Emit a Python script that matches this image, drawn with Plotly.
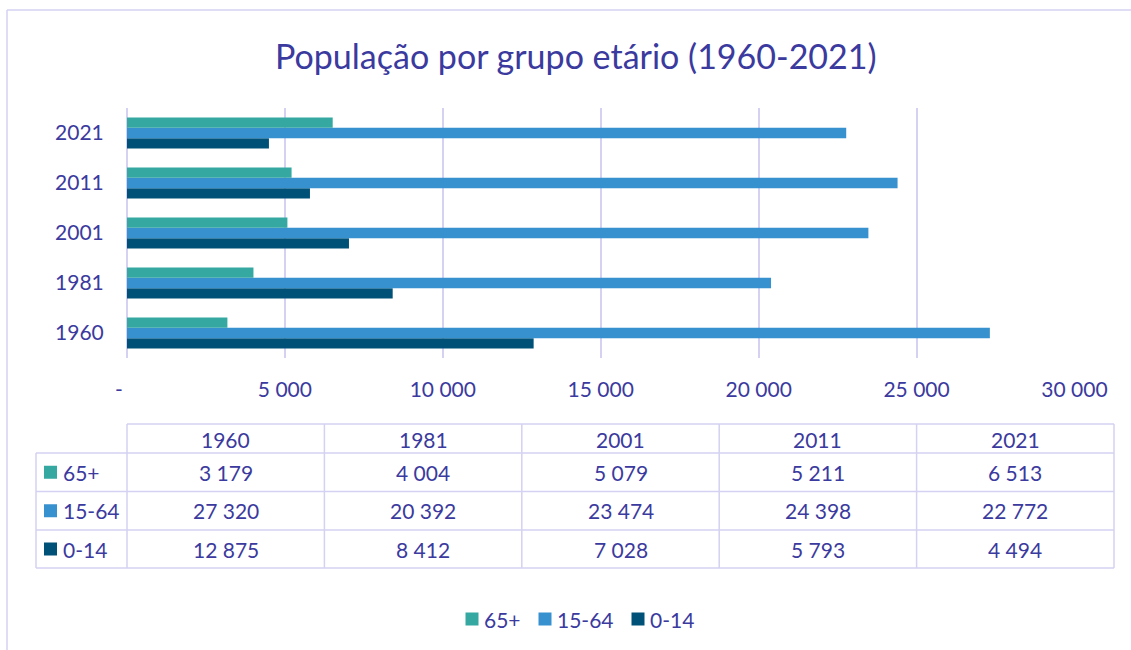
import plotly.graph_objects as go

# data (thousands of people)
anos = ["1960", "1981", "2001", "2011", "2021"]
grupos = ["65+", "15-64", "0-14"]
v_65 = [3179, 4004, 5079, 5211, 6513]
v_15_64 = [27320, 20392, 23474, 24398, 22772]
v_0_14 = [12875, 8412, 7028, 5793, 4494]
x_ticks = [0, 5000, 10000, 15000, 20000, 25000, 30000]
x_labels = ["-\u00a0\u00a0\u00a0", "5 000", "10 000", "15 000", "20 000", "25 000", "30 000"]

cores = {"65+": "#35A9A1", "15-64": "#3791CF", "0-14": "#005177"}
valores = {"65+": v_65, "15-64": v_15_64, "0-14": v_0_14}

W, H = 1131, 650
TXT = "#3B3A9E"
LINHA = "#D4D1F2"
FONTE = "Lato"
FS = 21


def px(x):
    return x / W


def py(y):
    return 1 - y / H


def fmt(v):
    return f"{v:,}".replace(",", " ")


def texto(t, x, y, xanchor="center", size=FS):
    return dict(text=t, x=px(x), y=py(y), xref="paper", yref="paper",
                xanchor=xanchor, yanchor="middle", showarrow=False,
                font=dict(size=size, color=TXT, family=FONTE))


def linha(x0, y0, x1, y1):
    return dict(type="line", xref="paper", yref="paper",
                x0=px(x0), x1=px(x1), y0=py(y0), y1=py(y1),
                line=dict(color=LINHA, width=1.5))


def quadrado(cx, cy, cor, lado=13):
    return dict(type="rect", xref="paper", yref="paper",
                x0=px(cx - lado / 2), x1=px(cx + lado / 2),
                y0=py(cy + lado / 2), y1=py(cy - lado / 2),
                fillcolor=cor, line=dict(width=0))


fig = go.Figure()
# plotly puts the first trace at the bottom of each group
for g in ["0-14", "15-64", "65+"]:
    fig.add_trace(go.Bar(
        y=anos, x=valores[g], name=g, orientation="h",
        marker=dict(color=cores[g], line=dict(width=0)),
        showlegend=False,
    ))

shapes = []
annots = []

# outer frame
shapes.append(linha(7, 10, 7, 660))
shapes.append(linha(7, 10, 1140, 10))

# data table below the chart
col_x = [127 + i * 197.4 for i in range(6)]
row_y = [424, 453, 491.5, 530, 568]
lab_x0 = 36
for i, y in enumerate(row_y):
    shapes.append(linha(col_x[0] if i == 0 else lab_x0, y, col_x[-1], y))
for x in col_x:
    shapes.append(linha(x, row_y[0], x, row_y[-1]))
shapes.append(linha(lab_x0, row_y[1], lab_x0, row_y[-1]))

for j, ano in enumerate(anos):
    cx = (col_x[j] + col_x[j + 1]) / 2
    annots.append(texto(ano, cx, (row_y[0] + row_y[1]) / 2 + 1))

for i, g in enumerate(grupos):
    cy = (row_y[i + 1] + row_y[i + 2]) / 2
    shapes.append(quadrado(50.5, cy, cores[g]))
    annots.append(texto(g, 61, cy, xanchor="left"))
    for j, v in enumerate(valores[g]):
        cx = (col_x[j] + col_x[j + 1]) / 2
        annots.append(texto(fmt(v), cx, cy))

# legend under the table
leg_x = {"65+": 472, "15-64": 545, "0-14": 638}
for g in grupos:
    shapes.append(quadrado(leg_x[g], 619, cores[g]))
    annots.append(texto(g, leg_x[g] + 10, 619, xanchor="left"))

# title
annots.append(texto("População por grupo etário (1960-2021)", 576, 55, size=34))

fig.update_layout(
    width=W, height=H, autosize=False,
    margin=dict(l=0, r=0, t=0, b=0),
    paper_bgcolor="white", plot_bgcolor="white",
    barmode="group", bargap=0.38, bargroupgap=0,
    font=dict(family=FONTE, color=TXT, size=FS),
    shapes=shapes, annotations=annots,
    showlegend=False,
    xaxis=dict(domain=[px(127), px(1074.5)], range=[0, 30000],
               tickvals=x_ticks, ticktext=x_labels,
               showgrid=True, gridcolor=LINHA, gridwidth=1.5,
               zeroline=True, zerolinecolor=LINHA, zerolinewidth=1.5,
               showline=False,
               ticks="outside", ticklen=13, tickcolor="rgba(0,0,0,0)",
               tickfont=dict(size=FS, color=TXT, family=FONTE),
               automargin=False, fixedrange=True),
    yaxis=dict(domain=[py(358), py(108)], type="category",
               categoryorder="array", categoryarray=anos,
               showgrid=False, zeroline=False, showline=False,
               ticks="outside", ticklen=18, tickcolor="rgba(0,0,0,0)",
               tickfont=dict(size=FS, color=TXT, family=FONTE),
               automargin=False, fixedrange=True),
)

fig.write_html("out.html", config={"displayModeBar": False},
               post_script="document.body.style.margin='0';")
